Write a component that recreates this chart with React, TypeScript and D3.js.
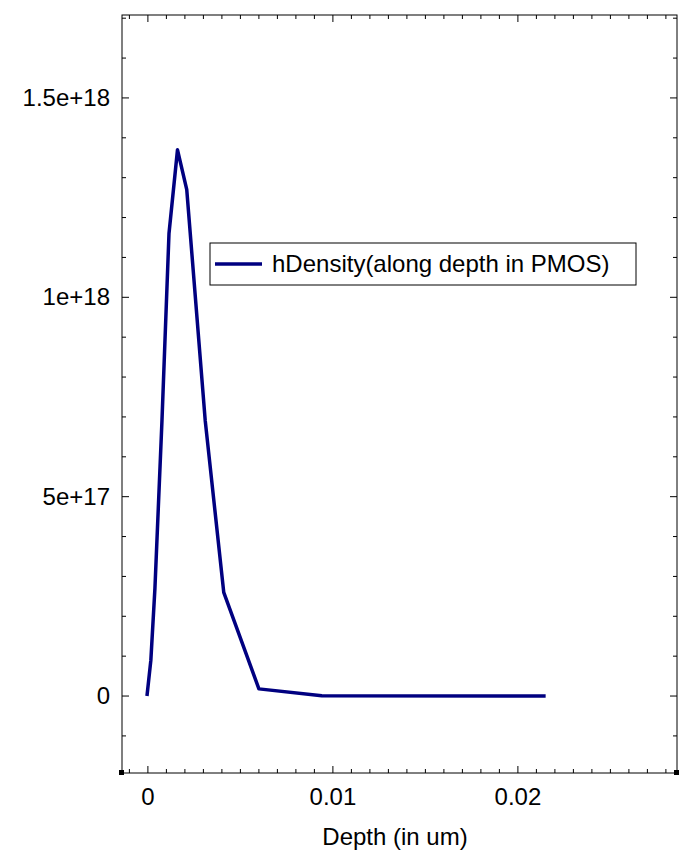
import * as d3 from 'd3';
import React from 'react';

const depth = [-0.00005, 0.00016, 0.00038, 0.00076, 0.00114, 0.0016, 0.0021, 0.0031, 0.0041, 0.006, 0.0094, 0.0215];
const density = [0, 0.09e18, 0.27e18, 0.69e18, 1.16e18, 1.37e18, 1.27e18, 0.69e18, 0.26e18, 0.018e18, 0.001e18, 0];
const xTicks = [0, 0.01, 0.02];
const yTicks = [0, 5e17, 1e18, 1.5e18];
const yLabels = ['0', '5e+17', '1e+18', '1.5e+18'];

const W = 687, H = 856;
const L = 122, R = 677, T = 15, B = 773;

export default function App() {
	const x = d3.scaleLinear().domain([-0.0014, 0.0286]).range([L, R]);
	const y = d3.scaleLinear().domain([-0.193e18, 1.708e18]).range([B, T]);
	const line = d3.line<number>().x((_, i) => x(depth[i])).y(d => y(d));
	const xMinor = d3.range(-1, 29).map(i => i * 0.001);
	const yMinor = d3.range(-1, 18).map(i => i * 1e17);
	const font = 'Liberation Sans, Arial, sans-serif';
	return (
		<svg width={W} height={H} style={{ position: 'absolute', left: 0, top: 0 }} fontFamily={font}>
			<rect width={W} height={H} fill="white" />
			<rect x={L} y={T} width={R - L} height={B - T} fill="none" stroke="black" strokeWidth={1} />
			{xMinor.map((v, i) => {
				const major = Math.abs(v / 0.01 - Math.round(v / 0.01)) < 1e-6;
				const len = major ? 7 : 4;
				return (
					<g key={'x' + i} stroke="black">
						<line x1={x(v)} x2={x(v)} y1={B} y2={B - len} />
						<line x1={x(v)} x2={x(v)} y1={T} y2={T + len} />
					</g>
				);
			})}
			{yMinor.map((v, i) => {
				const major = Math.abs(v / 5e17 - Math.round(v / 5e17)) < 1e-6;
				const len = major ? 7 : 4;
				return (
					<g key={'y' + i} stroke="black">
						<line x1={L} x2={L + len} y1={y(v)} y2={y(v)} />
						<line x1={R} x2={R - len} y1={y(v)} y2={y(v)} />
					</g>
				);
			})}
			<rect x={L - 3} y={B - 3} width={5} height={5} fill="black" />
			<rect x={R - 3} y={B - 3} width={5} height={5} fill="black" />
			{xTicks.map((v, i) => (
				<text key={i} x={x(v)} y={B + 32} textAnchor="middle" fontSize={24}>{v === 0 ? '0' : String(v)}</text>
			))}
			{yTicks.map((v, i) => (
				<text key={i} x={L - 12} y={y(v) + 8} textAnchor="end" fontSize={24}>{yLabels[i]}</text>
			))}
			<text x={395} y={845} textAnchor="middle" fontSize={24}>Depth (in um)</text>
			<path d={line(density) || ''} fill="none" stroke="#000080" strokeWidth={3.5} strokeLinejoin="round" />
			<rect x={210} y={243} width={426} height={42} fill="white" stroke="black" />
			<line x1={215} x2={262} y1={264} y2={264} stroke="#000080" strokeWidth={3.5} />
			<text x={272} y={272} fontSize={24}>hDensity(along depth in PMOS)</text>
		</svg>
	);
}
